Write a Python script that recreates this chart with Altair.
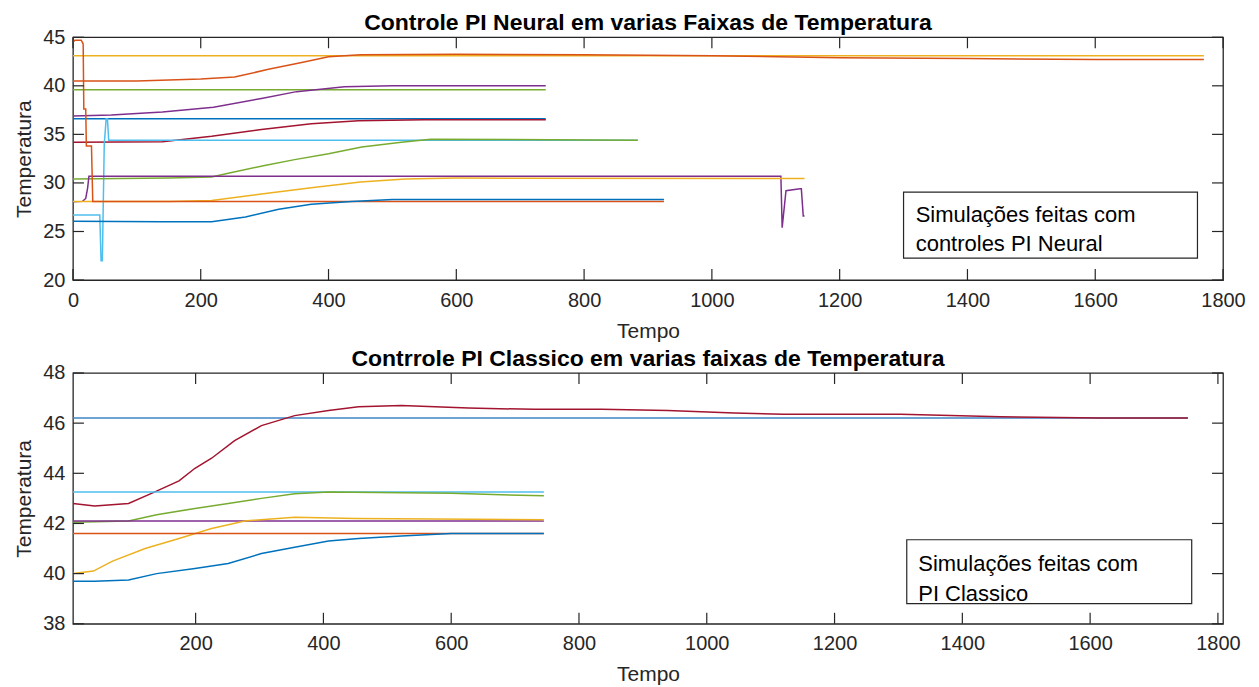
import altair as alt
import pandas as pd

FONT = "Liberation Sans"

# ---------------- top panel data (Controle PI Neural) ----------------
top_colors = ["#EDB120", "#D95319", "#77AC30", "#7E2F8E", "#0072BD", "#A2142F",
              "#4DBEEE", "#77AC30", "#7E2F8E", "#EDB120", "#D95319", "#0072BD"]

t1_x = [0, 1770]
t1_y = [43.1, 43.1]
t2_x = [0, 100, 150, 200, 253, 306, 358, 400, 450, 600, 800, 1000, 1200, 1400, 1600, 1770]
t2_y = [40.5, 40.5, 40.6, 40.7, 40.9, 41.7, 42.4, 43.0, 43.2, 43.25, 43.2, 43.1, 42.9, 42.8, 42.7, 42.7]
t3_x = [0, 740]
t3_y = [39.6, 39.6]
t4_x = [0, 60, 140, 220, 295, 350, 425, 500, 740]
t4_y = [36.9, 37.0, 37.3, 37.8, 38.7, 39.4, 39.9, 40.0, 40.0]
t5_x = [0, 740]
t5_y = [36.6, 36.6]
t6_x = [0, 140, 217, 295, 373, 447, 550, 740]
t6_y = [34.2, 34.25, 34.8, 35.5, 36.1, 36.4, 36.5, 36.5]
t7_x = [0, 42, 44, 46, 49, 52, 54, 56, 884]
t7_y = [26.7, 26.7, 22.0, 22.0, 34.0, 36.6, 36.6, 34.4, 34.4]
t8_x = [0, 150, 217, 243, 300, 347, 400, 452, 514, 560, 884]
t8_y = [30.4, 30.5, 30.6, 31.0, 31.8, 32.4, 33.0, 33.7, 34.2, 34.5, 34.4]
t9_x = [0, 15, 20, 23, 25, 1108, 1110, 1116, 1138, 1140, 1143, 1145]
t9_y = [28.05, 28.1, 28.4, 29.5, 30.7, 30.7, 25.4, 29.2, 29.4, 29.4, 26.6, 26.6]
t10_x = [0, 150, 217, 295, 373, 450, 520, 600, 1145]
t10_y = [28.1, 28.1, 28.2, 28.85, 29.5, 30.1, 30.4, 30.5, 30.45]
t11_x = [0, 3, 13, 16, 17, 20, 21, 29, 31, 925]
t11_y = [44.5, 44.7, 44.7, 44.3, 37.6, 37.6, 33.8, 33.8, 28.1, 28.1]
t12_x = [0, 140, 217, 270, 322, 373, 436, 500, 925]
t12_y = [26.05, 26.0, 26.0, 26.5, 27.3, 27.8, 28.1, 28.3, 28.3]

top_xs = [t1_x, t2_x, t3_x, t4_x, t5_x, t6_x, t7_x, t8_x, t9_x, t10_x, t11_x, t12_x]
top_ys = [t1_y, t2_y, t3_y, t4_y, t5_y, t6_y, t7_y, t8_y, t9_y, t10_y, t11_y, t12_y]

top_x_ticks = [0, 200, 400, 600, 800, 1000, 1200, 1400, 1600, 1800]
top_y_ticks = [20, 25, 30, 35, 40, 45]
top_box = {"x": 1300, "x2": 1760, "y": 29.05, "y2": 22.26}
top_text = ["Simulações feitas com", "controles PI Neural"]
top_text_x = [1319, 1319]
top_text_y = [25.97, 22.98]

# ---------------- bottom panel data (PI Classico) ----------------
bot_colors = ["#3F84C4", "#A2142F", "#4DBEEE", "#77AC30", "#7E2F8E", "#EDB120", "#D95319", "#0072BD"]

b1_x = [8, 1753]
b1_y = [46.2, 46.2]
b2_x = [8, 42, 95, 131, 174, 199, 225, 261, 303, 355, 408, 455, 522, 627, 730, 835, 939, 1043,
        1120, 1303, 1460, 1616, 1753]
b2_y = [42.8, 42.7, 42.8, 43.2, 43.7, 44.2, 44.6, 45.3, 45.9, 46.3, 46.5, 46.65, 46.7, 46.6, 46.55,
        46.55, 46.5, 46.4, 46.35, 46.35, 46.25, 46.2, 46.2]
b3_x = [8, 745]
b3_y = [43.25, 43.25]
b4_x = [8, 95, 139, 199, 251, 303, 355, 408, 600, 745]
b4_y = [42.05, 42.1, 42.35, 42.6, 42.8, 43.0, 43.18, 43.25, 43.2, 43.1]
b5_x = [8, 745]
b5_y = [42.1, 42.1]
b6_x = [8, 40, 70, 121, 174, 225, 277, 355, 450, 745]
b6_y = [40.0, 40.1, 40.5, 41.0, 41.4, 41.8, 42.1, 42.25, 42.2, 42.15]
b7_x = [8, 745]
b7_y = [41.6, 41.6]
b8_x = [8, 42, 95, 139, 199, 251, 303, 355, 408, 455, 522, 600, 745]
b8_y = [39.7, 39.7, 39.75, 40.0, 40.2, 40.4, 40.8, 41.05, 41.3, 41.4, 41.5, 41.6, 41.6]

bot_xs = [b1_x, b2_x, b3_x, b4_x, b5_x, b6_x, b7_x, b8_x]
bot_ys = [b1_y, b2_y, b3_y, b4_y, b5_y, b6_y, b7_y, b8_y]

bot_x_ticks = [200, 400, 600, 800, 1000, 1200, 1400, 1600, 1800]
bot_y_ticks = [38, 40, 42, 44, 46, 48]
bot_box = {"x": 1313, "x2": 1759, "y": 41.35, "y2": 38.8}
bot_text = ["Simulações feitas com", "PI Classico"]
bot_text_x = [1331, 1331]
bot_text_y = [40.11, 38.92]

W = 1151
TICK = 11


def series_df(prefix, xs, ys):
    rows = []
    for i, (xx, yy) in enumerate(zip(xs, ys)):
        for a, b in zip(xx, yy):
            rows.append({"s": f"{prefix}{i:02d}", "x": a, "y": b})
    return pd.DataFrame(rows)


def panel(prefix, xs, ys, colors, xdom, ydom, xticks, yticks, box, texts, tx, ty, title, H):
    df = series_df(prefix, xs, ys)
    names = [f"{prefix}{i:02d}" for i in range(len(xs))]
    xs_ = alt.Scale(domain=xdom, nice=False, zero=False)
    ys_ = alt.Scale(domain=ydom, nice=False, zero=False)
    xax = alt.Axis(values=xticks, labelFlush=False, format="d", labelPadding=10,
                   title="Tempo", titlePadding=10)
    yax = alt.Axis(values=yticks, format="d", title="Temperatura", titlePadding=8)

    lines = alt.Chart(df).mark_line(strokeWidth=1.5, clip=True).encode(
        x=alt.X("x:Q", scale=xs_, axis=xax),
        y=alt.Y("y:Q", scale=ys_, axis=yax),
        color=alt.Color("s:N", scale=alt.Scale(domain=names, range=colors), legend=None),
        detail="s:N",
    )
    xt = pd.DataFrame({"t": xticks})
    yt = pd.DataFrame({"t": yticks})
    tick_style = dict(color="#262626", strokeWidth=1.2)
    xt_bottom = alt.Chart(xt).mark_rule(**tick_style).encode(
        x=alt.X("t:Q", scale=xs_), y=alt.value(H), y2=alt.value(H - TICK))
    xt_top = alt.Chart(xt).mark_rule(**tick_style).encode(
        x=alt.X("t:Q", scale=xs_), y=alt.value(0), y2=alt.value(TICK))
    yt_left = alt.Chart(yt).mark_rule(**tick_style).encode(
        y=alt.Y("t:Q", scale=ys_), x=alt.value(0), x2=alt.value(TICK))
    yt_right = alt.Chart(yt).mark_rule(**tick_style).encode(
        y=alt.Y("t:Q", scale=ys_), x=alt.value(W), x2=alt.value(W - TICK))

    bdf = pd.DataFrame([box])
    rect = alt.Chart(bdf).mark_rect(fill="white", stroke="#262626", strokeWidth=1.2).encode(
        x=alt.X("x:Q", scale=xs_), x2="x2:Q", y=alt.Y("y:Q", scale=ys_), y2="y2:Q")
    tdf = pd.DataFrame({"label": texts, "x": tx, "y": ty})
    txt = alt.Chart(tdf).mark_text(align="left", baseline="alphabetic", fontSize=22,
                                   font=FONT, color="#000000").encode(
        x=alt.X("x:Q", scale=xs_), y=alt.Y("y:Q", scale=ys_), text="label:N")

    return alt.layer(lines, xt_bottom, xt_top, yt_left, yt_right, rect, txt).properties(
        width=W, height=H, title=title)


top = panel("t", top_xs, top_ys, top_colors, [0, 1800], [20, 45], top_x_ticks, top_y_ticks,
            top_box, top_text, top_text_x, top_text_y,
            "Controle PI Neural em varias Faixas de Temperatura", 243)
bottom = panel("b", bot_xs, bot_ys, bot_colors, [8, 1808], [38, 48], bot_x_ticks, bot_y_ticks,
               bot_box, bot_text, bot_text_x, bot_text_y,
               "Contrrole PI Classico em varias faixas de Temperatura", 251)

chart = alt.vconcat(top, bottom, spacing=5).resolve_scale(color="independent").configure_axis(
    labelFont=FONT, labelFontSize=20, labelColor="#262626", labelPadding=8,
    titleFont=FONT, titleFontSize=21, titleFontWeight="normal", titleColor="#262626",
    grid=False, domain=False, ticks=False,
).configure_view(stroke="#262626", strokeWidth=1.3).configure_title(
    font=FONT, fontSize=23, fontWeight="bold", color="#000000", offset=0, dy=12
).properties(background="white", padding={"left": 5, "top": 3, "right": 5, "bottom": 0})

chart.save("out.html", embed_options={"renderer": "svg", "actions": False})
